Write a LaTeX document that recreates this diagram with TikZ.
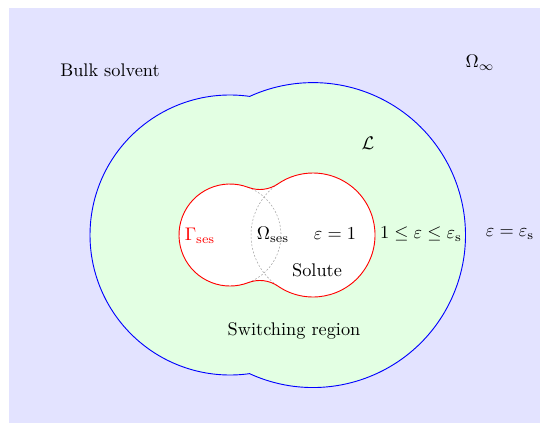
\documentclass[tikz,border=0pt]{standalone}
\begin{document}
\begin{tikzpicture}[x=0.547pt,y=0.547pt,line join=round,
  outline/.style={line width=0.5pt},
  hidden/.style={draw=gray!70,line width=0.3pt,dash pattern=on 1pt off 1pt},
  lbl/.style={inner sep=1pt}]
\useasboundingbox (0,0) rectangle (540,423);
\fill[blue!11] (9,0) rectangle (540,415);
\coordinate (C1) at (230,188);
\coordinate (C2) at (313,188);
% outer switching boundary
\filldraw[outline,fill=green!11,draw=blue]
  ([shift={(81.99:140)}]C1) arc[start angle=81.99,end angle=278.01,radius=140]
  arc[start angle=245.38,end angle=474.62,radius=152.45] -- cycle;
% solute (SES)
\fill[white]
  ([shift={(68.96:51)}]C1) arc[start angle=68.96,end angle=291.04,radius=51]
  arc[start angle=111.04,end angle=55.52,radius=32]
  arc[start angle=235.52,end angle=484.48,radius=62]
  arc[start angle=304.48,end angle=248.96,radius=32] -- cycle;
\draw[hidden] ([shift={(68.96:51)}]C1) arc[start angle=68.96,end angle=-68.96,radius=51];
\draw[hidden] ([shift={(124.48:62)}]C2) arc[start angle=124.48,end angle=235.52,radius=62];
\draw[outline,red]
  ([shift={(68.96:51)}]C1) arc[start angle=68.96,end angle=291.04,radius=51]
  arc[start angle=111.04,end angle=55.52,radius=32]
  arc[start angle=235.52,end angle=484.48,radius=62]
  arc[start angle=304.48,end angle=248.96,radius=32] -- cycle;
% labels
\node[lbl] (bulk) at (110,353) {Bulk solvent};
\node[lbl] (oinf) at (480,360) {$\Omega_\infty$};
\node[lbl] (L) at (368,280) {$\mathcal{L}$};
\node[lbl,text=red] (gses) at (200,187) {$\Gamma_{\mathrm{ses}}$};
\node[lbl] (oses) at (273,188) {$\Omega_{\mathrm{ses}}$};
\node[lbl] (e1) at (335,189) {$\varepsilon=1$};
\node[lbl] (sol) at (317,153) {Solute};
\node[lbl] (sw) at (421,189) {$1\le\varepsilon\le\varepsilon_{\mathrm{s}}$};
\node[lbl] (es) at (510,189) {$\varepsilon=\varepsilon_{\mathrm{s}}$};
\node[lbl] (swr) at (294,92) {Switching region};
\end{tikzpicture}
\end{document}
